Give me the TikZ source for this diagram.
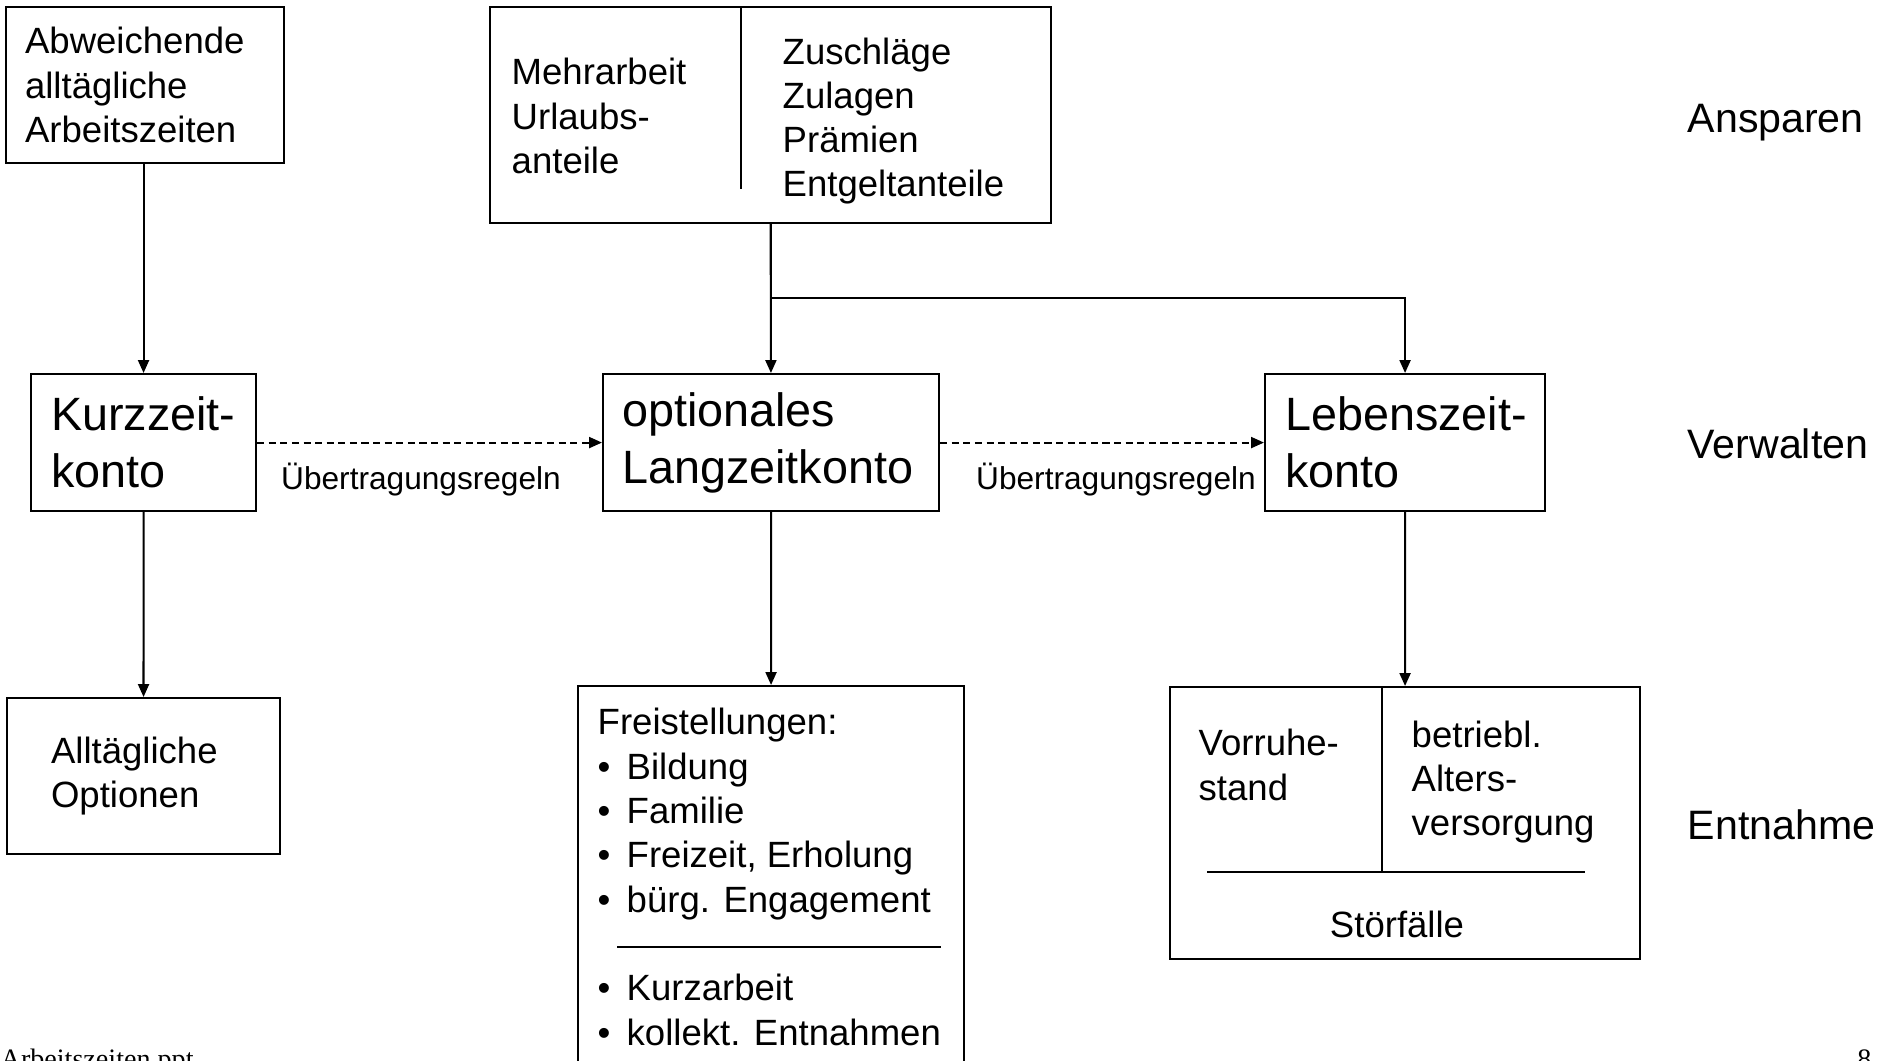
\documentclass[tikz,border=0pt]{standalone}
\usepackage{fontspec}
\setmainfont{Liberation Sans}
\newfontfamily\fussschrift{Liberation Serif}
\usetikzlibrary{arrows.meta}
\newcommand{\bul}{\makebox[2.9mm][l]{\textbullet}}
\tikzstyle{kasten}=[draw,rectangle,line width=0.6pt,align=left,anchor=north west,inner ysep=0pt]
\tikzstyle{gross}=[font=\fontsize{13.3}{16.2}\selectfont]
\tikzstyle{mittel}=[font=\fontsize{10.4}{12.6}\selectfont]
\tikzstyle{txt}=[mittel,align=left,inner sep=0pt,anchor=west]
\tikzstyle{klein}=[font=\fontsize{9}{11}\selectfont,inner sep=0pt]
\tikzstyle{phase}=[font=\fontsize{11.7}{14}\selectfont,anchor=west,inner sep=0pt]
\tikzstyle{fuss}=[font=\fontsize{8}{9}\selectfont\fussschrift,inner sep=0pt]
\tikzstyle{pfeil}=[line width=0.6pt,-{Triangle[length=1.3mm,width=1.1mm]}]
\tikzstyle{linie}=[line width=0.6pt]

\begin{document}
\begin{tikzpicture}[x=0.1mm,y=-0.1mm]
    \useasboundingbox (0,0) rectangle (1880,1060);
    \node[kasten,mittel,inner xsep=1.9mm,text width=24mm,minimum height=15.6mm] (abw) at (5,6) {Abweichende\\alltägliche\\Arbeitszeiten};
    \node[kasten,minimum width=56.1mm,minimum height=21.6mm,inner sep=0pt] (quelle) at (489,6) {};
    \node[txt] (mehr) at (511,116) {Mehrarbeit\\Urlaubs-\\anteile};
    \node[txt] (zuschl) at (782,121) {Zuschläge\\Zulagen\\Prämien\\Entgeltanteile};
    \draw[linie] (741,6) -- (741,189);

    \node[kasten,gross,inner xsep=2mm,text width=18.5mm,minimum height=13.7mm] (kurz) at (30,373) {\mbox{Kurzzeit-}\\konto};
    \node[kasten,gross,inner xsep=1.9mm,text width=29.8mm,minimum height=13.7mm] (lang) at (602,373) {optionales\\Langzeitkonto};
    \node[kasten,gross,inner xsep=2mm,text width=24mm,minimum height=13.7mm] (leben) at (1264,373) {\mbox{Lebenszeit-}\\konto};

    \node[kasten,mittel,inner xsep=4.4mm,text width=18.5mm,minimum height=15.6mm] (allt) at (6,697) {Alltägliche\\Optionen};
    \node[kasten,minimum width=38.6mm,minimum height=40mm,inner sep=0pt] (frei) at (577,685) {};
    \node[txt] (freiliste) at (597,814) {Freistellungen:\\\bul Bildung\\\bul Familie\\\bul Freizeit, Erholung\\\bul bürg. Engagement};
    \draw[linie] (617,947) -- (941,947);
    \node[txt] (kollekt) at (597,1010) {\bul Kurzarbeit\\\bul kollekt. Entnahmen};
    \node[kasten,minimum width=47mm,minimum height=27.2mm,inner sep=0pt] (aus) at (1169,686) {};
    \node[txt] (vorruhe) at (1198,765) {Vorruhe-\\stand};
    \node[txt] (betriebl) at (1411,782) {betriebl.\\Alters-\\versorgung};
    \draw[linie] (1382,686) -- (1382,872);
    \draw[linie] (1207,872) -- (1585,872);
    \node[txt,anchor=center] (stoer) at (1397,924) {Störfälle};

    \node[phase] (ansparen) at (1687,123) {Ansparen};
    \node[phase] (verwalten) at (1687,444) {Verwalten};
    \node[phase] (entnahme) at (1687,825) {Entnahme};

    \draw[pfeil] (abw.south -| kurz) -- (kurz);
    \draw[pfeil] (kurz) -- (allt);
    \draw[pfeil] (quelle) -- (lang);
    \draw[pfeil] ([yshift=-7.4mm]quelle.south) -| (leben);
    \draw[pfeil] (lang) -- (frei);
    \draw[pfeil] (leben) -- (aus);
    \draw[pfeil,dash pattern=on 2pt off 1.3pt] (kurz) -- (lang);
    \draw[pfeil,dash pattern=on 2pt off 1.3pt] (lang) -- (leben);
    \node[klein] (regel1) at (421,480) {Übertragungsregeln};
    \node[klein] (regel2) at (1116,480) {Übertragungsregeln};

    \node[fuss,anchor=base west] (datei) at (0,1068) {Arbeitszeiten.ppt};
    \node[fuss,anchor=base east] (seite) at (1872,1068) {8};
\end{tikzpicture}
\end{document}
